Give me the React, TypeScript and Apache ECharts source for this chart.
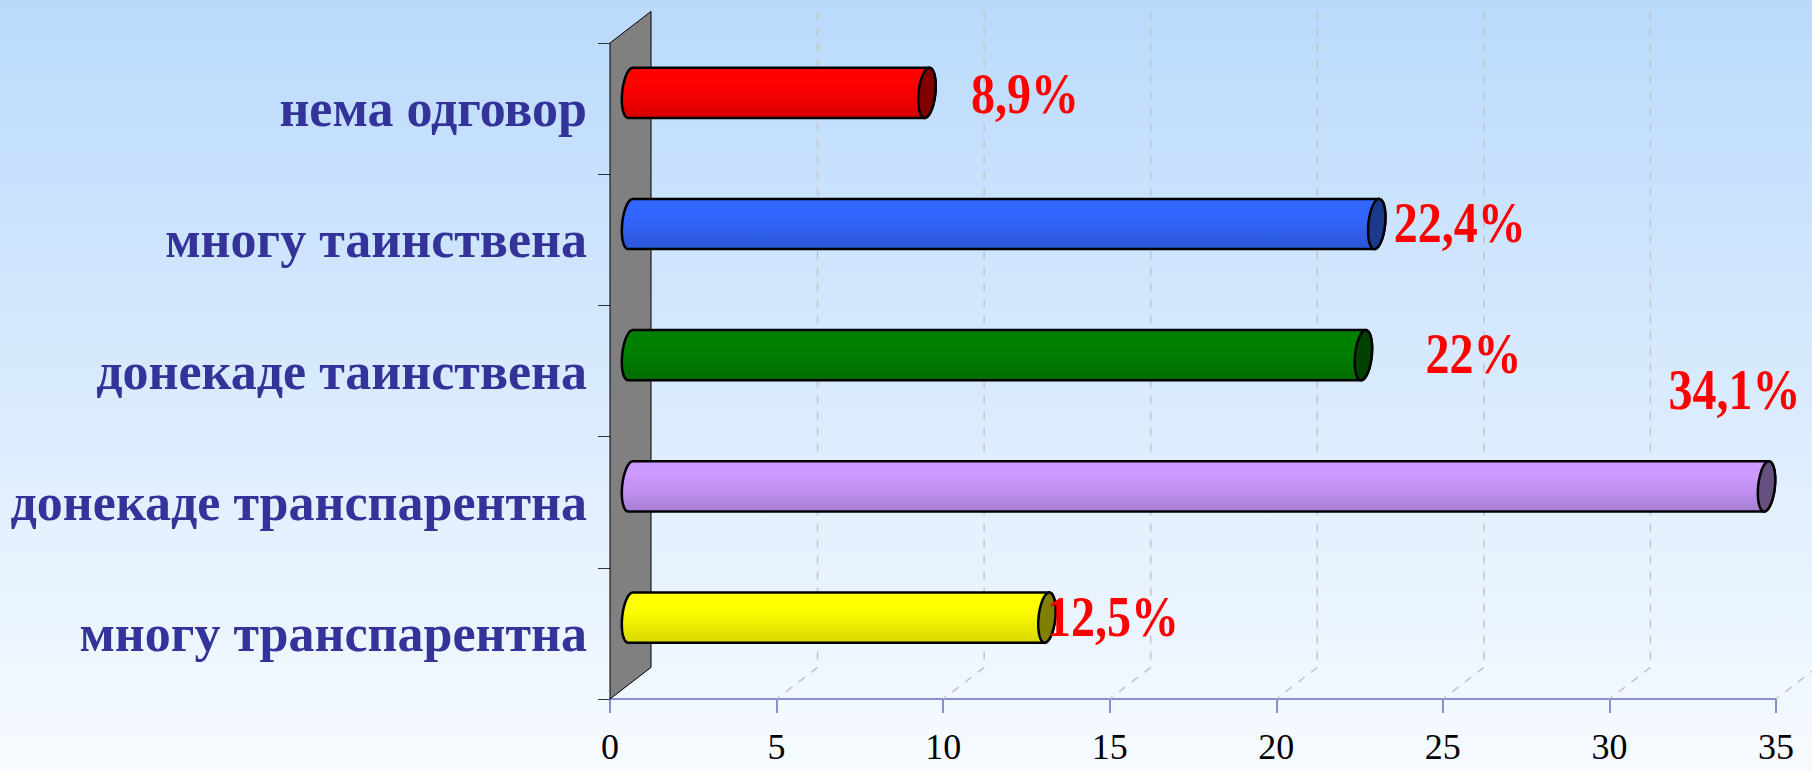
import React, { useEffect, useRef } from "react";
import * as echarts from "echarts";

// ---- data ----
const categories = [
  "нема одговор",
  "многу таинствена",
  "донекаде таинствена",
  "донекаде транспарентна",
  "многу транспарентна",
];
const values = [8.9, 22.4, 22, 34.1, 12.5];
const xMin = 0;
const xMax = 35;
const xInterval = 5;
const gridTicks = [5, 10, 15, 20, 25, 30, 35];

// ---- styles ----
const DX = 41; // depth offset x
const DY = 31.6; // depth offset y
const RX = 8.7;
const RY = 24.2;
const SKEW = -6.7;
const barStyles = [
  { stops: ["#ff0000", "#ff0000", "#f00000", "#d80000"], cap: "#800000" },
  { stops: ["#3366ff", "#3366ff", "#2f5fee", "#2a55d6"], cap: "#1c3a8c" },
  { stops: ["#008000", "#008000", "#007a00", "#006c00"], cap: "#004000" },
  { stops: ["#cc99ff", "#cc99ff", "#c08ff0", "#a67ed2"], cap: "#665080" },
  { stops: ["#ffff00", "#ffff00", "#f0f000", "#d8d800"], cap: "#808000" },
];
const labelNudge = [
  [44, 1],
  [17, -1],
  [62, -2],
  [-98, -97],
  [0, -1],
];

function ellipsePts(cx: number, cy: number, t0: number, t1: number, n: number) {
  const pts: number[][] = [];
  for (let j = 0; j <= n; j++) {
    const t = t0 + ((t1 - t0) * j) / n;
    pts.push([cx + RX * Math.cos(t), cy + RY * Math.sin(t) + SKEW * Math.cos(t)]);
  }
  return pts;
}

function fmt(v: number) {
  return String(v).replace(".", ",") + "%";
}

export default function App() {
  const ref = useRef<HTMLDivElement>(null);
  useEffect(() => {
    const chart = echarts.init(ref.current!, null, { renderer: "svg" });
    const R = Math.hypot(RY, SKEW);
    const tTop = Math.atan2(-RY / R, -SKEW / R);
    const tBot = tTop + Math.PI;

    const option: any = {
      animation: false,
      backgroundColor: {
        type: "linear",
        x: 0,
        y: 0,
        x2: 0,
        y2: 1,
        colorStops: [
          { offset: 0, color: "#badafc" },
          { offset: 1, color: "#f7fbff" },
        ],
      },
      grid: { left: 610, top: 43, right: 36, bottom: 72 },
      xAxis: {
        type: "value",
        min: xMin,
        max: xMax,
        interval: xInterval,
        axisLine: { show: true, lineStyle: { color: "#6b6bbf", width: 1.5 } },
        axisTick: { show: true, length: 14, lineStyle: { color: "#6b6bbf", width: 1.5 } },
        splitLine: { show: false },
        axisLabel: {
          color: "#000",
          fontSize: 36,
          fontFamily: "Liberation Serif",
          margin: 30,
        },
      },
      yAxis: {
        type: "category",
        inverse: true,
        data: categories,
        axisLine: { show: true, lineStyle: { color: "#000", width: 1 } },
        axisTick: { show: true, length: 12, lineStyle: { color: "#333", width: 1 } },
        axisLabel: {
          color: "#333399",
          fontSize: 52,
          fontWeight: "bold",
          fontFamily: "Liberation Serif",
          margin: 23,
        },
      },
      series: [
        {
          type: "custom",
          z: 1,
          data: gridTicks.map((v) => [v, 0]),
          encode: { x: 0, y: 1 },
          silent: true,
          renderItem: (params: any, api: any) => {
            const cs = params.coordSys;
            const x = api.coord([api.value(0), 0])[0];
            const yb = cs.y + cs.height;
            const yt = cs.y;
            const ls = { stroke: "#c4c4c4", lineWidth: 1.5, lineDash: [8, 8] };
            return {
              type: "group",
              children: [
                {
                  type: "line",
                  shape: { x1: x + DX, y1: yt - DY, x2: x + DX, y2: yb - DY },
                  style: ls,
                },
                {
                  type: "line",
                  shape: { x1: x + DX, y1: yb - DY, x2: x, y2: yb },
                  style: ls,
                },
              ],
            };
          },
        },
        {
          type: "custom",
          z: 2,
          data: [[0, 0]],
          encode: { x: 0, y: 1 },
          silent: true,
          renderItem: (params: any, api: any) => {
            const cs = params.coordSys;
            const x = api.coord([0, 0])[0];
            const yt = cs.y;
            const yb = cs.y + cs.height;
            return {
              type: "polygon",
              shape: {
                points: [
                  [x, yt],
                  [x + DX, yt - DY],
                  [x + DX, yb - DY],
                  [x, yb],
                ],
              },
              style: { fill: "#808080", stroke: "#000", lineWidth: 1 },
            };
          },
        },
        {
          type: "custom",
          z: 3,
          data: values.map((v, i) => [v, i]),
          encode: { x: 0, y: 1 },
          silent: true,
          renderItem: (params: any, api: any) => {
            const v = api.value(0);
            const i = params.dataIndex;
            const p = api.coord([v, i]);
            const p0 = api.coord([0, i]);
            const cx1 = p[0] + DX / 2;
            const cx0 = p0[0] + DX / 2;
            const cy = p[1] - DY / 2;
            const st = barStyles[i];
            const body = [
              ...ellipsePts(cx1, cy, tTop, tBot, 24),
              ...ellipsePts(cx0, cy, tBot, tTop + 2 * Math.PI, 24),
            ];
            const cap = ellipsePts(cx1, cy, 0, 2 * Math.PI, 48);
            const grad = new echarts.graphic.LinearGradient(0, 0, 0, 1, [
              { offset: 0, color: st.stops[0] },
              { offset: 0.3, color: st.stops[1] },
              { offset: 0.6, color: st.stops[2] },
              { offset: 1, color: st.stops[3] },
            ]);
            const nudge = labelNudge[i];
            return {
              type: "group",
              children: [
                {
                  type: "polygon",
                  shape: { points: body },
                  style: { fill: grad, stroke: "#000", lineWidth: 2.5, lineJoin: "round" },
                },
                {
                  type: "polygon",
                  shape: { points: cap },
                  style: { fill: st.cap, stroke: "#000", lineWidth: 2.5 },
                },
                {
                  type: "text",
                  x: cx1 + nudge[0],
                  y: cy + nudge[1],
                  scaleY: 1.18,
                  style: {
                    text: fmt(values[i]),
                    fill: "#ff0000",
                    fontSize: 48,
                    fontWeight: "bold",
                    fontFamily: "Liberation Serif",
                    align: "left",
                    verticalAlign: "middle",
                  },
                },
              ],
            };
          },
        },
      ],
    };
    chart.setOption(option);
    return () => chart.dispose();
  }, []);
  return (
    <div
      ref={ref}
      style={{ position: "absolute", left: 0, top: 0, width: 1812, height: 771 }}
    />
  );
}
